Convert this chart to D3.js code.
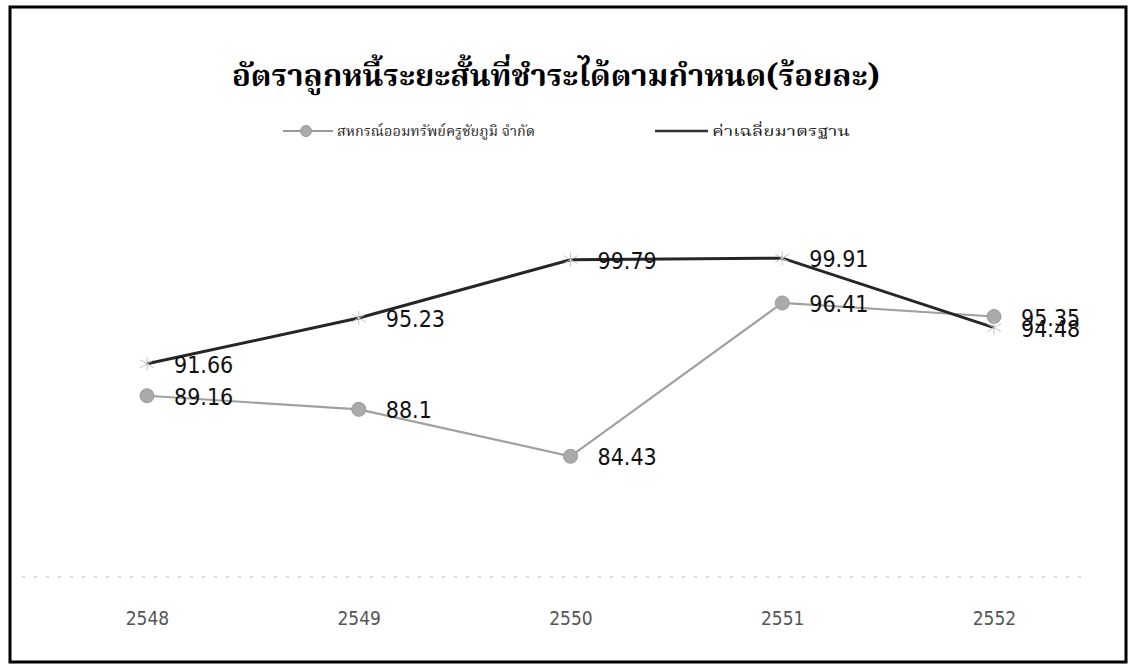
<!DOCTYPE html>
<html>
<head>
<meta charset="utf-8">
<script src="https://cdn.jsdelivr.net/npm/d3@7"></script>
<style>
  html, body { margin: 0; padding: 0; background: #fff; }
  svg { display: block; }
</style>
</head>
<body>
<svg id="chart" width="1131" height="669"></svg>
<script>
// Years (Buddhist Era) on the x axis
const years = ["2548", "2549", "2550", "2551", "2552"];
// Cooperative's short-term debtor repayment rate (%)
const coopValues = [89.16, 88.1, 84.43, 96.41, 95.35];
// Standard average (%)
const standardValues = [91.66, 95.23, 99.79, 99.91, 94.48];

const seriesNames = ["สหกรณ์ออมทรัพย์ครูชัยภูมิ จำกัด", "ค่าเฉลี่ยมาตรฐาน"];
const titleText = "อัตราลูกหนี้ระยะสั้นที่ชำระได้ตามกำหนด(ร้อยละ)";
const yDomain = [75, 100];

const thaiFont = "'Noto Serif Thai', 'Noto Sans Thai', 'Loma', 'Garuda', 'Noto Sans', sans-serif";
const numFont = "'DejaVu Sans Condensed', 'DejaVu Sans', sans-serif";
const axisFont = "'Liberation Sans Narrow', 'DejaVu Sans Condensed', sans-serif";

const svg = d3.select("#chart");

// Outer frame
svg.append("rect")
  .attr("x", 10).attr("y", 7).attr("width", 1116).attr("height", 655)
  .attr("fill", "#fff").attr("stroke", "#000").attr("stroke-width", 3);

const x = d3.scalePoint().domain(years).range([147, 994]);
const y = d3.scaleLinear().domain(yDomain).range([577, 257]);

// Title
svg.append("text")
  .attr("x", 232).attr("y", 86)
  .attr("font-family", thaiFont)
  .attr("font-size", 30).attr("font-weight", "bold")
  .attr("textLength", 648).attr("lengthAdjust", "spacingAndGlyphs")
  .attr("fill", "#000")
  .text(titleText);

// Legend
const legend = svg.append("g").attr("transform", "translate(0,131)");
const l1 = legend.append("g").attr("transform", "translate(283,0)");
l1.append("line").attr("x1", 0).attr("x2", 50).attr("y1", 0).attr("y2", 0)
  .attr("stroke", "#999").attr("stroke-width", 2);
l1.append("circle").attr("cx", 23).attr("cy", 0).attr("r", 5.5)
  .attr("fill", "#aaa").attr("stroke", "#999");
l1.append("text").attr("x", 54).attr("y", 5)
  .attr("font-family", thaiFont).attr("font-size", 14).attr("fill", "#222")
  .attr("textLength", 198).attr("lengthAdjust", "spacingAndGlyphs")
  .text(seriesNames[0]);
const l2 = legend.append("g").attr("transform", "translate(655,0)");
l2.append("line").attr("x1", 0).attr("x2", 53).attr("y1", 0).attr("y2", 0)
  .attr("stroke", "#333").attr("stroke-width", 2.5);
l2.append("text").attr("x", 57).attr("y", 5)
  .attr("font-family", thaiFont).attr("font-size", 14).attr("fill", "#222")
  .attr("textLength", 138).attr("lengthAdjust", "spacingAndGlyphs")
  .text(seriesNames[1]);

// Faint baseline of the value axis
svg.append("line")
  .attr("x1", 22).attr("x2", 1088)
  .attr("y1", y(yDomain[0])).attr("y2", y(yDomain[0]))
  .attr("stroke", "#bbb").attr("stroke-width", 1)
  .attr("stroke-dasharray", "3,9");

// Category axis (labels only)
const xAxis = d3.axisBottom(x).tickSize(0).tickPadding(0);
const gx = svg.append("g")
  .attr("transform", `translate(0,${y(yDomain[0]) + 34})`)
  .call(xAxis);
gx.select(".domain").remove();
gx.selectAll("text")
  .attr("font-family", axisFont)
  .attr("font-size", 19)
  .attr("fill", "#555");

const line = d3.line().x((d, i) => x(years[i])).y(d => y(d));

// Cooperative series: grey line with round markers
svg.append("path").datum(coopValues)
  .attr("d", line).attr("fill", "none")
  .attr("stroke", "#a0a0a0").attr("stroke-width", 2.2);

// Standard average series: dark line with star markers
svg.append("path").datum(standardValues)
  .attr("d", line).attr("fill", "none")
  .attr("stroke", "#262626").attr("stroke-width", 3);

svg.selectAll("circle.coop").data(coopValues).enter().append("circle")
  .attr("class", "coop")
  .attr("cx", (d, i) => x(years[i])).attr("cy", d => y(d))
  .attr("r", 7).attr("fill", "#aaa").attr("stroke", "#999").attr("stroke-width", 1);

const star = "M-7,-4L7,4M-7,4L7,-4M0,-7L0,7";
svg.selectAll("path.std").data(standardValues).enter().append("path")
  .attr("class", "std")
  .attr("transform", (d, i) => `translate(${x(years[i])},${y(d)})`)
  .attr("d", star).attr("stroke", "#c4c4c4").attr("stroke-width", 1).attr("fill", "none");

// Data labels, to the right of each point
function labels(values, cls) {
  svg.selectAll("text." + cls).data(values).enter().append("text")
    .attr("class", cls)
    .attr("x", (d, i) => x(years[i]) + 27)
    .attr("y", d => y(d) + 9)
    .attr("font-family", numFont)
    .attr("font-size", 23)
    .attr("fill", "#111")
    .text(d => d);
}
labels(standardValues, "lstd");
labels(coopValues, "lcoop");
</script>
</body>
</html>
